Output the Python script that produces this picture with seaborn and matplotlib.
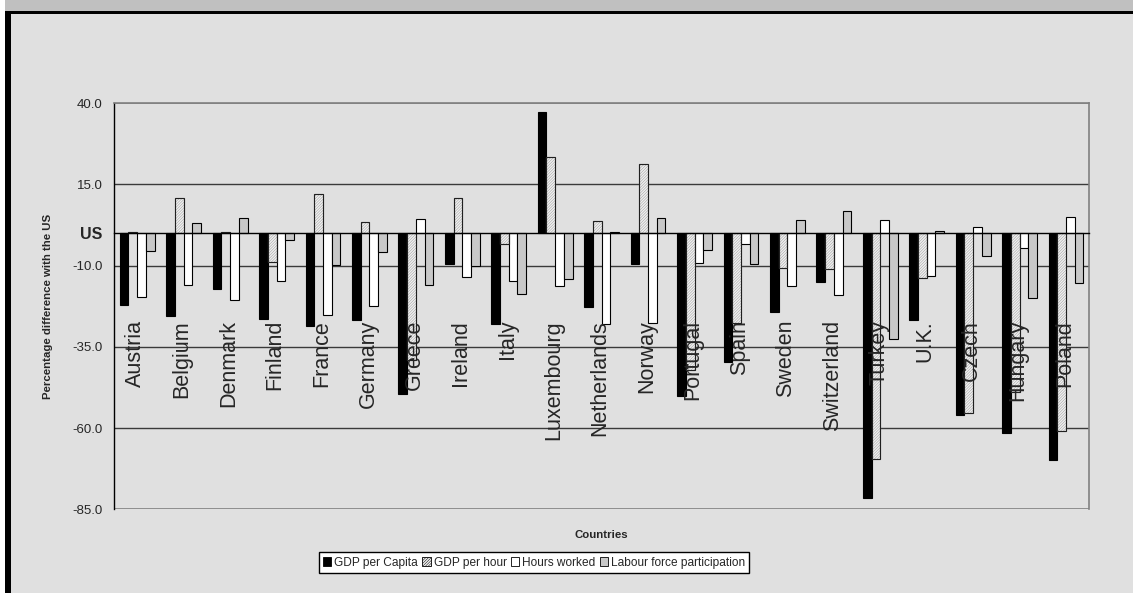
import numpy as np
import pandas as pd
import matplotlib
matplotlib.use("Agg")
import matplotlib.pyplot as plt
import matplotlib.transforms as mtransforms
from matplotlib.patches import Patch, Rectangle
import seaborn as sns

# ---------------------------------------------------------------- data
countries = ["Austria", "Belgium", "Denmark", "Finland", "France", "Germany",
             "Greece", "Ireland", "Italy", "Luxembourg", "Netherlands", "Norway",
             "Portugal", "Spain", "Sweden", "Switzerland", "Turkey", "U.K.",
             "Czech", "Hungary", "Poland"]

series_names = ["GDP per Capita", "GDP per hour", "Hours worked",
                "Labour force participation"]

gdp_per_capita = [-22.2, -25.5, -17.3, -26.6, -28.5, -26.8, -49.4, -9.6, -28.0,
                  37.2, -22.7, -9.6, -50.1, -39.6, -24.4, -15.1, -81.4, -26.8,
                  -56.0, -61.5, -69.9]
gdp_per_hour = [0.3, 10.7, 0.4, -9.0, 12.1, 3.5, -39.1, 10.7, -3.4, 23.5, 3.8,
                21.2, -42.0, -27.8, -10.7, -11.1, -69.6, -13.9, -55.5, -49.0,
                -61.0]
hours_worked = [-19.7, -16.0, -20.6, -14.8, -25.1, -22.5, 4.2, -13.6, -14.9,
                -16.3, -28.0, -27.8, -9.1, -3.5, -16.3, -19.2, 4.0, -13.1, 1.9,
                -4.7, 4.8]
labour_force = [-5.6, 3.0, 4.7, -2.2, -9.9, -5.9, -16.0, -10.2, -18.8, -14.0,
                0.4, 4.5, -5.2, -9.6, 4.0, 6.9, -32.6, 0.7, -7.0, -20.0, -15.4]

y_ticks = [-85.0, -60.0, -35.0, -10.0, 0.0, 15.0, 40.0]
y_tick_labels = ["-85.0", "-60.0", "-35.0", "-10.0", "US", "15.0", "40.0"]

df = pd.DataFrame({
    "country": np.tile(countries, 4),
    "series": np.repeat(series_names, len(countries)),
    "value": gdp_per_capita + gdp_per_hour + hours_worked + labour_force,
})

# ---------------------------------------------------------------- style
BG = "#e0e0e0"
sns.set_style("white")
plt.rcParams["font.family"] = ["Liberation Sans", "DejaVu Sans"]
plt.rcParams["hatch.linewidth"] = 0.35

HATCH = "////////////"
HATCH_COLOR = "#9c9c9c"

fills = {"GDP per Capita": "#000000", "GDP per hour": "#f0f0f0",
         "Hours worked": "#ffffff", "Labour force participation": "#c8c8c8"}

fig = plt.figure(figsize=(11.33, 5.93), dpi=100, facecolor=BG)
ax = fig.add_axes([0.1006, 0.1411, 0.8608, 0.6852])
ax.set_facecolor(BG)

sns.barplot(data=df, x="country", y="value", hue="series",
            order=countries, hue_order=series_names, palette=fills,
            saturation=1, width=0.75, edgecolor="black", linewidth=0.8,
            legend=False, ax=ax, zorder=3)

# hatched productivity bars: fine grey hatch, dark outline
for bar in ax.containers[1]:
    bar.set_hatch(HATCH)
    if hasattr(bar, "set_hatchcolor"):
        bar.set_hatchcolor(HATCH_COLOR)
        bar.set_edgecolor("#202020")
    else:
        bar.set_edgecolor(HATCH_COLOR)
        ax.add_patch(Rectangle(bar.get_xy(), bar.get_width(), bar.get_height(),
                               fill=False, edgecolor="#202020", linewidth=0.8,
                               zorder=4))

ax.set_xlim(-0.5, len(countries) - 0.5)
ax.set_ylim(-85, 40)

# horizontal gridlines and frame
for y in y_ticks:
    if y == 0:
        continue
    edge = y in (y_ticks[0], y_ticks[-1])
    ax.axhline(y, color="#808080" if edge else "#3a3a3a",
               lw=1.2 if edge else 1.0, zorder=1)

for side in ("top", "right"):
    ax.spines[side].set_color("#808080")
    ax.spines[side].set_linewidth(1.2)
ax.spines["left"].set_color("black")
ax.spines["left"].set_linewidth(1.0)
# category axis sits on the US reference level
ax.spines["bottom"].set_position(("data", 0))
ax.spines["bottom"].set_color("black")
ax.spines["bottom"].set_linewidth(1.0)
ax.spines["bottom"].set_zorder(5)

ax.set_xticks(np.arange(len(countries) + 1) - 0.5)
ax.set_xticklabels([])
ax.tick_params(axis="x", direction="out", length=5, width=0.8, color="black")

ax.set_yticks(y_ticks)
ax.set_yticklabels(y_tick_labels)
ax.tick_params(axis="y", direction="out", length=5, width=0.8, color="black",
               labelsize=9.5, pad=3)
for lab in ax.get_yticklabels():
    if lab.get_text() == "US":
        lab.set_fontweight("bold")
        lab.set_fontsize(11.5)

# country names inside the plot area
trans = mtransforms.blended_transform_factory(ax.transData, ax.transAxes)
for i, name in enumerate(countries):
    ax.text(i - 0.03, 0.466, name, rotation=90, ha="center", va="top",
            fontsize=15.5, transform=trans, zorder=6)

ax.set_xlabel("Countries", fontsize=8.2, fontweight="bold", labelpad=0)
ax.xaxis.set_label_coords(0.5, -0.051)
ax.set_ylabel("Percentage difference with the US", fontsize=8.2,
              fontweight="bold")
ax.yaxis.set_label_coords(-0.063, 0.5)

handles = []
for s in series_names:
    h = Patch(facecolor=fills[s], edgecolor="black", linewidth=0.6,
              hatch=HATCH if s == "GDP per hour" else None)
    handles.append(h)
leg = fig.legend(handles, series_names, loc="center", ncol=4,
                 bbox_to_anchor=(0.4713, 0.0514), fontsize=8.6,
                 frameon=True, fancybox=False, edgecolor="black",
                 handlelength=0.7, handleheight=0.7, handletextpad=0.25,
                 columnspacing=0.35, borderpad=0.35, borderaxespad=0)
leg.get_frame().set_facecolor("white")
leg.get_frame().set_linewidth(1.0)
leg.get_frame().set_alpha(1)

# outer chart frame: title band and heavy left/top rules
W, H = 1133, 593
fig.patches.extend([
    Rectangle((0, 1 - 11 / H), 1, 11 / H, transform=fig.transFigure,
              facecolor="#c0c0c0", edgecolor="none", zorder=0),
    Rectangle((0, 1 - 13.5 / H), 1, 2.5 / H, transform=fig.transFigure,
              facecolor="black", edgecolor="none", zorder=1),
    Rectangle((0, 0), 5 / W, 1, transform=fig.transFigure,
              facecolor="white", edgecolor="none", zorder=1),
    Rectangle((5 / W, 0), 6 / W, 1 - 11 / H, transform=fig.transFigure,
              facecolor="black", edgecolor="none", zorder=1),
])

fig.savefig("out.png", dpi=100, facecolor=BG)
